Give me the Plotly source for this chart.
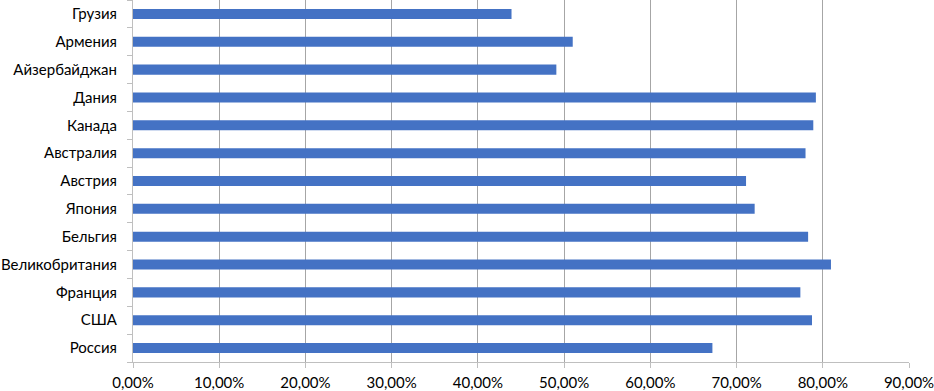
import plotly.graph_objects as go

countries = ["Россия", "США", "Франция", "Великобритания", "Бельгия", "Япония",
             "Австрия", "Австралия", "Канада", "Дания", "Айзербайджан", "Армения", "Грузия"]
values = [0.672, 0.7875, 0.774, 0.8095, 0.783, 0.721,
          0.711, 0.780, 0.789, 0.792, 0.491, 0.510, 0.439]
x_ticks = [0, 0.1, 0.2, 0.3, 0.4, 0.5, 0.6, 0.7, 0.8, 0.9]

fig = go.Figure(go.Bar(
    x=values, y=countries, orientation="h",
    marker=dict(color="#4472C4", line=dict(width=0)),
))

font = dict(family="Lato, 'Open Sans', sans-serif", size=15, color="#000000")
fig.update_layout(
    width=934, height=391,
    margin=dict(l=133, r=25, t=0, b=29, autoexpand=False),
    paper_bgcolor="white", plot_bgcolor="white",
    separators=", ",
    bargap=0.64,
    showlegend=False,
    font=font,
)
fig.update_xaxes(
    range=[0, 0.9], tickvals=x_ticks, tickformat=".2%",
    showgrid=True, gridcolor="#a6a6a6", gridwidth=1,
    showline=True, linecolor="#bfbfbf", linewidth=1,
    ticks="outside", ticklen=5, tickcolor="#bfbfbf",
    zeroline=False, tickfont=font, automargin=False,
    ticklabeloverflow="allow", ticklabelstandoff=2,
)
fig.update_yaxes(
    type="category", categoryorder="array", categoryarray=countries,
    showgrid=False, showline=True, linecolor="#bfbfbf", linewidth=1,
    ticks="outside", ticklen=5, tickcolor="#bfbfbf", tickson="boundaries",
    ticklabelstandoff=12, tickfont=font, automargin=False,
    ticklabeloverflow="allow",
)

fig.write_html(
    "out.html",
    config={"displayModeBar": False},
    post_script="document.body.style.margin='0';document.body.style.overflow='hidden';",
)
